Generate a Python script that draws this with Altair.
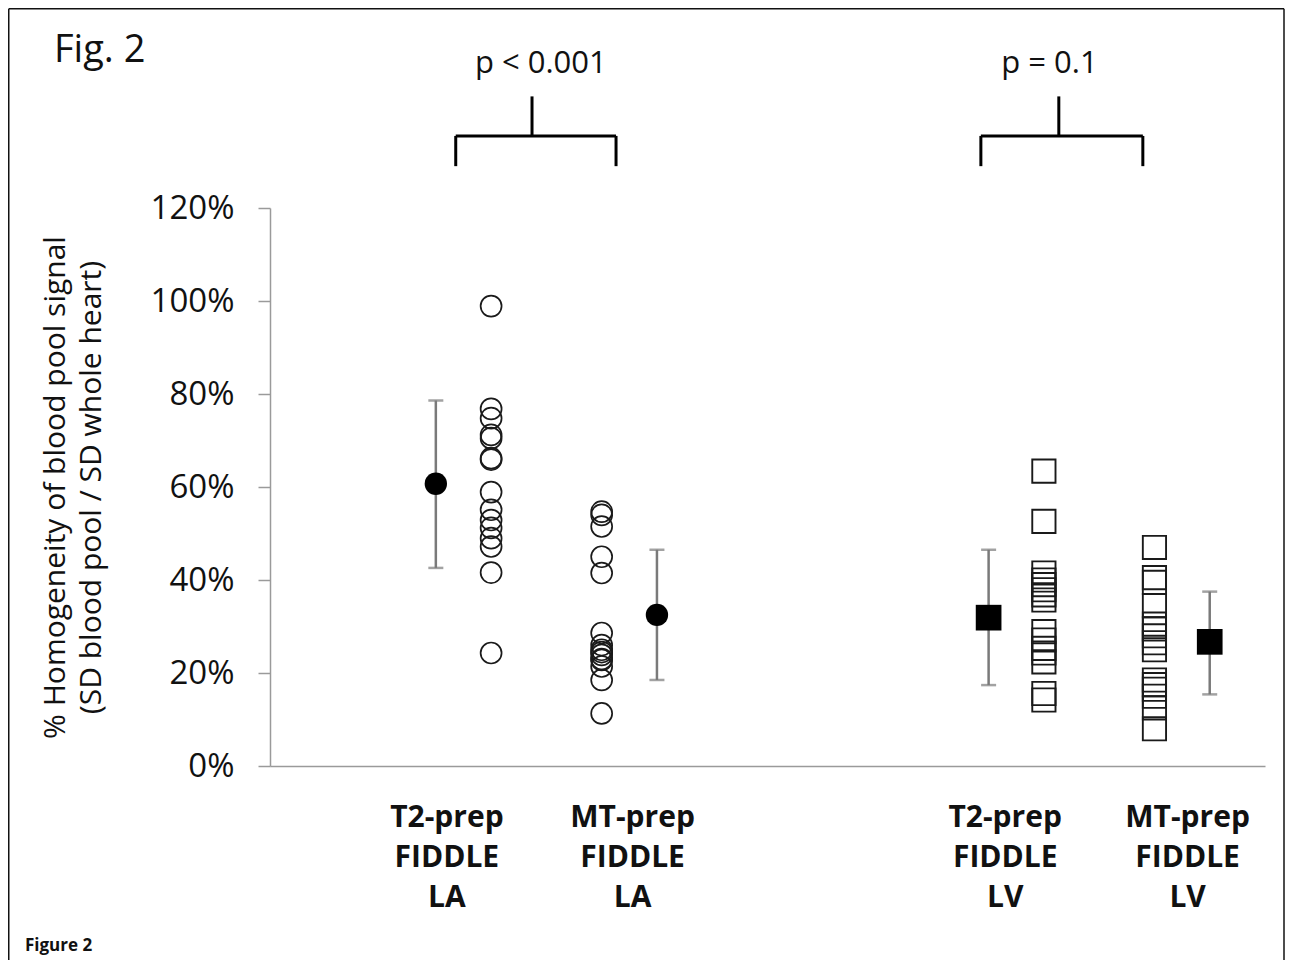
import altair as alt
import pandas as pd

# ---- data ----
groups = ["T2-prep\nFIDDLE\nLA", "MT-prep\nFIDDLE\nLA", "T2-prep\nFIDDLE\nLV", "MT-prep\nFIDDLE\nLV"]
la_t2 = [98.9, 76.8, 74.8, 71.2, 70.5, 66.2, 65.9, 58.9, 55.1, 52.9, 51.2, 49.0, 47.2, 41.6, 24.3]
la_mt = [54.7, 54.0, 51.5, 45.0, 41.5, 28.6, 26.0, 25.0, 24.5, 23.9, 23.0, 22.8, 21.4, 18.5, 11.3]
lv_t2 = [63.4, 52.6, 41.5, 40.0, 39.0, 37.9, 36.8, 35.7, 28.9, 27.1, 25.3, 24.3, 22.4, 15.6, 14.2]
lv_mt = [47.0, 40.5, 39.5, 34.5, 30.5, 29.5, 28.0, 26.5, 25.0, 18.5, 17.5, 16.5, 15.0, 12.5, 8.0]
means = [60.7, 32.5, 31.9, 26.7]
sd_low = [42.6, 18.5, 17.4, 15.4]
sd_high = [78.6, 46.5, 46.5, 37.5]
p_labels = ["p < 0.001", "p = 0.1"]
y_ticks = [0, 20, 40, 60, 80, 100, 120]

# ---- layout (slot positions on a hidden x scale) ----
point_slots = [4, 6, 14, 16]
mean_slots = [3, 7, 13, 17]
label_slots = [3.2, 6.56, 13.3, 16.6]
shapes = ["circle", "circle", "square", "square"]
brackets = [(3.36, 6.26, 4.74, 4.9), (12.86, 15.79, 14.27, 14.1)]  # left, right, stem, text
br_low, br_bar, br_top, p_y = 129.0, 135.5, 144.0, 151.0

W, H = 995, 558
FONT = "Open Sans"

series = [la_t2, la_mt, lv_t2, lv_mt]
pts = pd.DataFrame(
    [{"pos": point_slots[i], "val": v, "shape": shapes[i]} for i, s in enumerate(series) for v in s]
)
mdf = pd.DataFrame({"pos": mean_slots, "val": means, "lo": sd_low, "hi": sd_high, "shape": shapes})
ldf = pd.DataFrame({"pos": label_slots, "label": groups})

segs = []
for (l, r, c, t) in brackets:
    segs.append({"pos": l, "pos2": r, "val": br_bar, "val2": br_bar})
    segs.append({"pos": l, "pos2": l, "val": br_low, "val2": br_bar})
    segs.append({"pos": r, "pos2": r, "val": br_low, "val2": br_bar})
    segs.append({"pos": c, "pos2": c, "val": br_bar, "val2": br_top})
bdf = pd.DataFrame(segs)
pdf = pd.DataFrame({"pos": [b[3] for b in brackets], "val": [p_y, p_y], "label": p_labels})

xs = alt.Scale(domain=[0, 18], nice=False, zero=False)
ys = alt.Scale(domain=[0, 120], nice=False)
xaxis = alt.Axis(labels=False, ticks=False, grid=False, title=None,
                 domainColor="#9a9a9a", domainWidth=1.5)
yaxis = alt.Axis(values=y_ticks, labelExpr="datum.value + '%'", grid=False,
                 title=["% Homogeneity of blood pool signal", "(SD blood pool / SD whole heart)"],
                 titleFont=FONT, titleFontSize=30, titleFontWeight="normal", titleColor="#111",
                 titleLineHeight=36, titleAngle=270, titleAlign="center", titleBaseline="bottom",
                 titleX=-200, titleY=H / 2,
                 labelFont=FONT, labelFontSize=33, labelColor="#111", labelPadding=24,
                 tickSize=12, tickColor="#9a9a9a", tickWidth=1.5,
                 domainColor="#9a9a9a", domainWidth=1.5)


def X(f):
    return alt.X(f, type="quantitative", scale=xs, axis=xaxis)


def Y(f):
    return alt.Y(f, type="quantitative", scale=ys, axis=yaxis)


circles = alt.Chart(pts).transform_filter("datum.shape == 'circle'").mark_point(
    shape="circle", filled=False, size=440, stroke="#1a1a1a", strokeWidth=1.7, opacity=1
).encode(x=X("pos"), y=Y("val"))
squares = alt.Chart(pts).transform_filter("datum.shape == 'square'").mark_point(
    shape="square", filled=False, size=540, stroke="#1a1a1a", strokeWidth=1.9, opacity=1
).encode(x=X("pos"), y=Y("val"))

err = alt.Chart(mdf).mark_rule(color="#7a7a7a", strokeWidth=2.5).encode(
    x=X("pos"), y=Y("lo"), y2="hi")
cap_lo = alt.Chart(mdf).mark_tick(color="#7a7a7a", thickness=2.5, size=15, orient="horizontal").encode(
    x=X("pos"), y=Y("lo"))
cap_hi = alt.Chart(mdf).mark_tick(color="#7a7a7a", thickness=2.5, size=15, orient="horizontal").encode(
    x=X("pos"), y=Y("hi"))
mean_c = alt.Chart(mdf).transform_filter("datum.shape == 'circle'").mark_point(
    shape="circle", filled=True, size=500, color="#000", opacity=1).encode(x=X("pos"), y=Y("val"))
mean_s = alt.Chart(mdf).transform_filter("datum.shape == 'square'").mark_point(
    shape="square", filled=True, size=660, color="#000", opacity=1).encode(x=X("pos"), y=Y("val"))

br = alt.Chart(bdf).mark_rule(color="#000", strokeWidth=3).encode(
    x=X("pos"), x2="pos2", y=Y("val"), y2="val2")
ptxt = alt.Chart(pdf).mark_text(font=FONT, fontSize=31, color="#111", baseline="middle").encode(
    x=X("pos"), y=Y("val"), text="label")

cats = alt.Chart(ldf).mark_text(font=FONT, fontSize=30, fontWeight="bold", color="#111",
                                 lineBreak="\n", lineHeight=40, baseline="middle").encode(
    x=X("pos"), y=alt.value(610), text="label")

one = pd.DataFrame({"t": ["Fig. 2"]})
fig_t = alt.Chart(one).mark_text(font=FONT, fontSize=38, color="#111", align="left",
                                  baseline="middle").encode(
    x=alt.value(-216), y=alt.value(-157), text="t")
two = pd.DataFrame({"t": ["Figure 2"]})
fig_b = alt.Chart(two).mark_text(font=FONT, fontSize=17, fontWeight="bold", color="#111",
                                  align="left", baseline="middle").encode(
    x=alt.value(-245), y=alt.value(738), text="t")

frame_df = pd.DataFrame({"a": [0]})
ftop = alt.Chart(frame_df).mark_rule(color="#111", strokeWidth=1.5).encode(
    x=alt.value(-261.25), x2=alt.value(1014), y=alt.value(-199.25))
fleft = alt.Chart(frame_df).mark_rule(color="#111", strokeWidth=1.5).encode(
    x=alt.value(-261.25), y=alt.value(-199.25), y2=alt.value(752))
fright = alt.Chart(frame_df).mark_rule(color="#111", strokeWidth=1.5).encode(
    x=alt.value(1014), y=alt.value(-199.25), y2=alt.value(752))

chart = alt.layer(
    circles, squares, err, cap_lo, cap_hi, mean_c, mean_s, br, ptxt, cats, fig_t, fig_b,
    ftop, fleft, fright
).properties(
    width=W, height=H, padding={"left": 0, "top": 0, "right": 0, "bottom": 4},
    background="white"
).configure_view(strokeWidth=0, stroke="transparent")

chart.save("out.html", embed_options={"renderer": "svg", "actions": False})
